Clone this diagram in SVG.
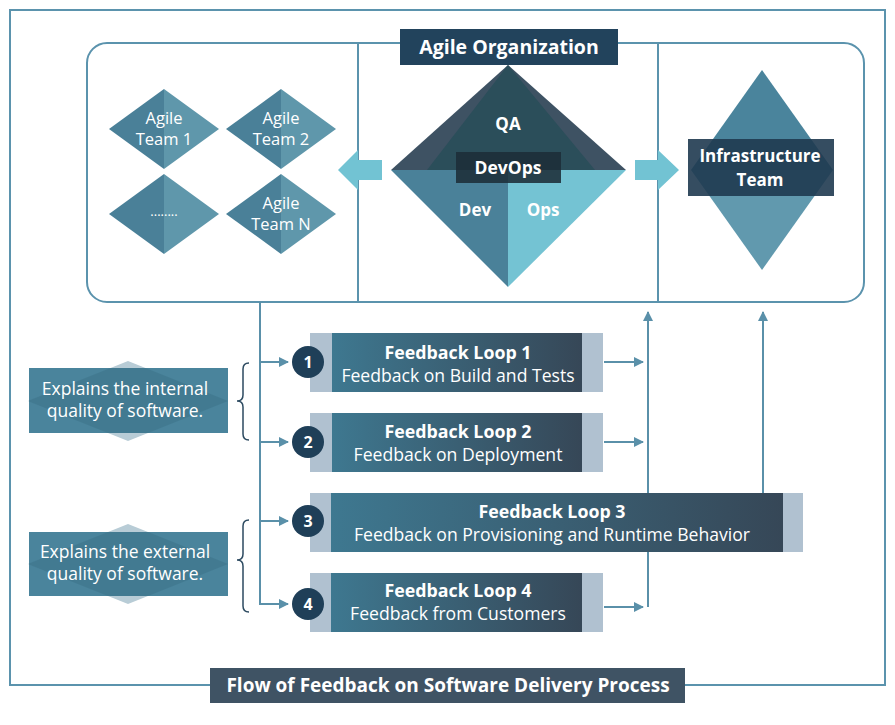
<svg xmlns="http://www.w3.org/2000/svg" width="895" height="725" viewBox="0 0 895 725">
<defs>
<style>
.ln{fill:none;stroke:#5a90a9;stroke-width:2}
.fr{fill:none;stroke:#5b93ad;stroke-width:2}
.br{fill:none;stroke:#2c4a60;stroke-width:1.5}
.t{font-family:"Open Sans","Noto Sans",sans-serif;fill:#fff;text-anchor:middle}
.b{font-weight:bold}
.strip{fill:#b0c1d0}
.circ{fill:#1f3f58}
.tl{fill:#4a8098}
.tr{fill:#5f97ab}
.arr{fill:#72c3d3}
</style>
<linearGradient id="fb" x1="0" y1="0" x2="1" y2="0">
<stop offset="0" stop-color="#3e7890"/>
<stop offset="1" stop-color="#364757"/>
</linearGradient>
<marker id="ah" viewBox="0 0 10 10" refX="9" refY="5" markerWidth="10" markerHeight="10" markerUnits="userSpaceOnUse" orient="auto">
<path d="M0,0 L10,5 L0,10 Z" fill="#5a90a9"/>
</marker>
<clipPath id="c1"><rect x="29" y="368" width="199" height="65"/></clipPath>
<clipPath id="c2"><rect x="29" y="532" width="199" height="64"/></clipPath>
</defs>
<rect width="895" height="725" fill="#fff"/>

<g id="frame">
<rect class="fr" x="10" y="10" width="875" height="675"/>
<rect class="fr" x="87" y="43" width="777" height="259" rx="20"/>
<line class="fr" x1="358" y1="43" x2="358" y2="302"/>
<line class="fr" x1="658" y1="43" x2="658" y2="302"/>
</g>

<g id="connectors">
<line class="ln" x1="260" y1="302" x2="260" y2="605"/>
<line class="ln" x1="260" y1="362" x2="288" y2="362" marker-end="url(#ah)"/>
<line class="ln" x1="260" y1="442" x2="288" y2="442" marker-end="url(#ah)"/>
<line class="ln" x1="260" y1="521" x2="288" y2="521" marker-end="url(#ah)"/>
<line class="ln" x1="260" y1="604" x2="288" y2="604" marker-end="url(#ah)"/>
<line class="ln" x1="604" y1="362" x2="643" y2="362" marker-end="url(#ah)"/>
<line class="ln" x1="604" y1="442" x2="643" y2="442" marker-end="url(#ah)"/>
<line class="ln" x1="604" y1="607" x2="643" y2="607" marker-end="url(#ah)"/>
<line class="ln" x1="648" y1="607" x2="648" y2="312" marker-end="url(#ah)"/>
<line class="ln" x1="763" y1="493" x2="763" y2="312" marker-end="url(#ah)"/>
<polygon class="arr" points="382,160 358,160 358,150 338,170 358,190 358,180 382,180"/>
<polygon class="arr" points="635,160 658,160 658,150 679,170 658,190 658,180 635,180"/>
</g>

<g id="agile-organization">
<rect x="400" y="29" width="218" height="36" fill="#22435c"/>
<text class="t b" x="509" y="54" font-size="19.5">Agile Organization</text>
</g>

<g id="agile-team-1">
<polygon class="tl" points="164,89 109,129 164,169"/>
<polygon class="tr" points="164,89 219,129 164,169"/>
<text class="t" x="164" y="124" font-size="16.5">Agile</text>
<text class="t" x="164" y="145" font-size="16.5">Team 1</text>
</g>
<g id="agile-team-2">
<polygon class="tl" points="281,89 226,129 281,169"/>
<polygon class="tr" points="281,89 336,129 281,169"/>
<text class="t" x="281" y="124" font-size="16.5">Agile</text>
<text class="t" x="281" y="145" font-size="16.5">Team 2</text>
</g>
<g id="agile-team-dots">
<polygon class="tl" points="164,174 109,214 164,254"/>
<polygon class="tr" points="164,174 219,214 164,254"/>
<text class="t" x="164" y="216" font-size="13">........</text>
</g>
<g id="agile-team-n">
<polygon class="tl" points="281,174 226,214 281,254"/>
<polygon class="tr" points="281,174 336,214 281,254"/>
<text class="t" x="281" y="209" font-size="16.5">Agile</text>
<text class="t" x="281" y="230" font-size="16.5">Team N</text>
</g>

<g id="devops-diamond">
<polygon points="508,65 391,170 626,170" fill="#3e5263"/>
<polygon points="508,65 427,170 595,170" fill="#2b4e5a"/>
<polygon points="391,170 508,170 508,287" fill="#4a8199"/>
<polygon points="508,170 626,170 508,287" fill="#74c3d3"/>
<rect x="456" y="152" width="105" height="31" fill="#1d2d38" fill-opacity="0.88"/>
<text class="t b" x="508" y="130" font-size="17">QA</text>
<text class="t b" x="508" y="174" font-size="17.5">DevOps</text>
<text class="t b" x="475" y="216" font-size="17">Dev</text>
<text class="t b" x="543" y="216" font-size="17">Ops</text>
</g>

<g id="infrastructure-team">
<polygon points="762,70 691,170 833,170" fill="#4a849c"/>
<polygon points="691,170 833,170 762,270" fill="#6199ae"/>
<rect x="688" y="139" width="146" height="57" fill="#1f3a50" fill-opacity="0.9"/>
<text class="t b" x="760" y="162" font-size="17">Infrastructure</text>
<text class="t b" x="760" y="186" font-size="17">Team</text>
</g>

<g id="internal-quality">
<polygon points="128,361 228,401 128,441 28,401" fill="#b8ccd6"/>
<rect x="29" y="368" width="199" height="65" fill="#4a849c"/>
<polygon points="128,361 228,401 128,441 28,401" fill="#3a6f86" fill-opacity="0.45" clip-path="url(#c1)"/>
<text class="t" x="125" y="395" font-size="17.5">Explains the internal</text>
<text class="t" x="125" y="417" font-size="17.5">quality of software.</text>
<path class="br" d="M249,363 Q243,363 243,369 L243,395 Q243,401 237,401 Q243,401 243,407 L243,434 Q243,440 249,440"/>
</g>

<g id="external-quality">
<polygon points="128,524 228,564 128,604 28,564" fill="#b8ccd6"/>
<rect x="29" y="532" width="199" height="64" fill="#4a849c"/>
<polygon points="128,524 228,564 128,604 28,564" fill="#3a6f86" fill-opacity="0.45" clip-path="url(#c2)"/>
<text class="t" x="125" y="558" font-size="17.5">Explains the external</text>
<text class="t" x="125" y="580" font-size="17.5">quality of software.</text>
<path class="br" d="M249,520 Q243,520 243,526 L243,554 Q243,560 237,560 Q243,560 243,566 L243,606 Q243,612 249,612"/>
</g>

<g id="feedback-loop-1">
<rect class="strip" x="310" y="333" width="293" height="59"/>
<rect x="332" y="333" width="250" height="59" fill="url(#fb)"/>
<circle class="circ" cx="308" cy="362" r="16"/>
<text class="t b" x="308" y="368" font-size="16">1</text>
<text class="t b" x="458" y="359" font-size="17.8">Feedback Loop 1</text>
<text class="t" x="458" y="382" font-size="17.6">Feedback on Build and Tests</text>
</g>
<g id="feedback-loop-2">
<rect class="strip" x="310" y="413" width="293" height="59"/>
<rect x="332" y="413" width="250" height="59" fill="url(#fb)"/>
<circle class="circ" cx="308" cy="442" r="16"/>
<text class="t b" x="308" y="448" font-size="16">2</text>
<text class="t b" x="458" y="438" font-size="17.8">Feedback Loop 2</text>
<text class="t" x="458" y="461" font-size="17.6">Feedback on Deployment</text>
</g>
<g id="feedback-loop-3">
<rect class="strip" x="310" y="493" width="493" height="59"/>
<rect x="331" y="493" width="452" height="59" fill="url(#fb)"/>
<circle class="circ" cx="308" cy="521" r="16"/>
<text class="t b" x="308" y="527" font-size="16">3</text>
<text class="t b" x="552" y="518" font-size="17.8">Feedback Loop 3</text>
<text class="t" x="552" y="541" font-size="17.6">Feedback on Provisioning and Runtime Behavior</text>
</g>
<g id="feedback-loop-4">
<rect class="strip" x="310" y="573" width="293" height="59"/>
<rect x="331" y="573" width="251" height="59" fill="url(#fb)"/>
<circle class="circ" cx="308" cy="604" r="16"/>
<text class="t b" x="308" y="610" font-size="16">4</text>
<text class="t b" x="458" y="597" font-size="17.8">Feedback Loop 4</text>
<text class="t" x="458" y="620" font-size="17.6">Feedback from Customers</text>
</g>

<g id="title">
<rect x="210" y="668" width="475" height="35" fill="#3f5364"/>
<text class="t b" x="448" y="692" font-size="19">Flow of Feedback on Software Delivery Process</text>
</g>
</svg>
